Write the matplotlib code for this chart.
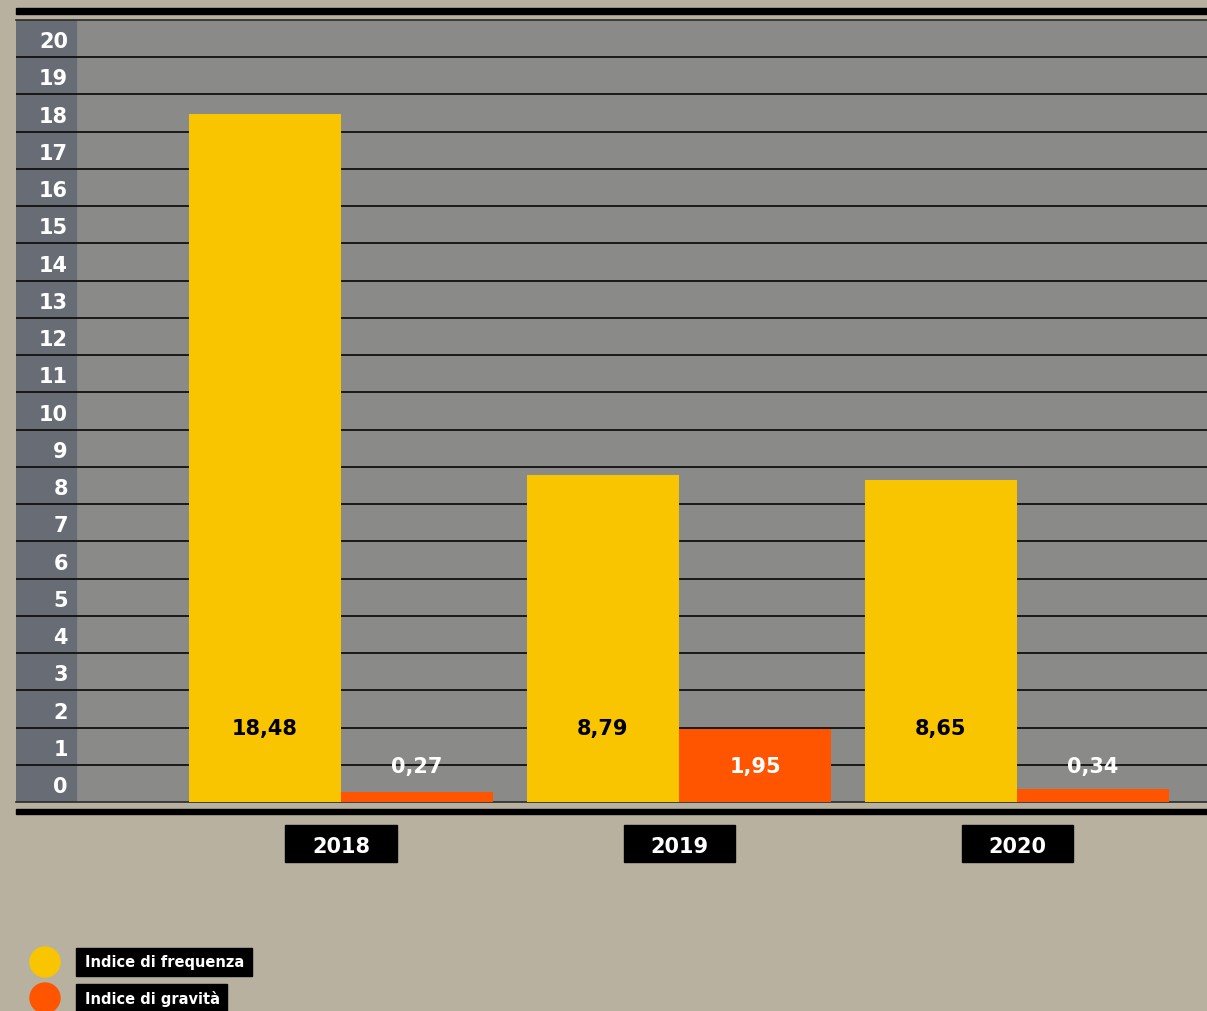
import numpy as np
import matplotlib.pyplot as plt
from matplotlib.patches import Rectangle, Circle
from matplotlib.transforms import blended_transform_factory

years = ['2018', '2019', '2020']
frequenza = [18.48, 8.79, 8.65]
gravita = [0.27, 1.95, 0.34]
y_ticks = list(range(0, 21))
legend_labels = ['Indice di frequenza', 'Indice di gravità']

BEIGE = '#b8b1a0'
GRAY = '#8a8a88'
SLATE = '#686d75'
YELLOW = '#f8c500'
ORANGE = '#ff5400'

W, H = 1207, 1012
fig = plt.figure(figsize=(W / 100, H / 100), dpi=100, facecolor=BEIGE)


def px_rect(x0, y0, x1, y1):
    # pixel box (top-left origin) -> figure fraction
    return [x0 / W, 1 - y1 / H, (x1 - x0) / W, (y1 - y0) / H]


# overlay in pixel units for the frame bars and the legend
deco = fig.add_axes([0, 0, 1, 1])
deco.set_xlim(0, W)
deco.set_ylim(H, 0)
deco.axis('off')

deco.add_patch(Rectangle((16, 9), W - 16, 6, color='black'))
deco.add_patch(Rectangle((16, 809.5), W - 16, 5.5, color='black'))

ax = fig.add_axes(px_rect(16, 21, W, 803))
ax.set_facecolor(GRAY)
ax.set_xlim(-0.9615, 2.562)
ax.set_ylim(0, 21)
ax.set_xticks([])
ax.set_yticks([])
for side in ['left', 'right']:
    ax.spines[side].set_visible(False)
for side in ['top', 'bottom']:
    ax.spines[side].set_color('#2a2a2a')
    ax.spines[side].set_linewidth(1.2)

# dark column behind the value scale
ax.add_patch(Rectangle((0, 0), 60 / 1191, 1, transform=ax.transAxes,
                       color=SLATE, zorder=1))

for k in range(1, 21):
    ax.axhline(k, color='#111111', lw=1.3, zorder=2)

ytrans = blended_transform_factory(ax.transAxes, ax.transData)
for k in y_ticks:
    ax.text(52 / 1191, k + 0.43, str(k), transform=ytrans, ha='right',
            va='center', fontsize=15, fontweight='bold', color='white', zorder=4)

x = np.arange(len(years))
w = 0.45
ax.bar(x - w / 2, frequenza, w, color=YELLOW, zorder=3)
ax.bar(x + w / 2, gravita, w, color=ORANGE, zorder=3)

for i in range(len(years)):
    ax.text(x[i] - w / 2, 2.0, f'{frequenza[i]:.2f}'.replace('.', ','),
            ha='center', va='center', fontsize=15, fontweight='bold',
            color='black', zorder=4)
    ax.text(x[i] + w / 2, 0.98, f'{gravita[i]:.2f}'.replace('.', ','),
            ha='center', va='center', fontsize=15, fontweight='bold',
            color='white', zorder=4)

# year tags under the panel
xtrans = blended_transform_factory(ax.transData, ax.transAxes)
bw = 111 / 338
for i, yr in enumerate(years):
    ax.add_patch(Rectangle((x[i] - bw / 2, -60 / 782), bw, 37 / 782,
                           transform=xtrans, color='black', clip_on=False))
    ax.text(x[i], -44 / 782, yr, transform=xtrans, ha='center', va='center',
            fontsize=15, fontweight='bold', color='white', clip_on=False)

# legend
for (label, col, cy, bx1) in zip(legend_labels, [YELLOW, ORANGE], [963, 999], [252, 227]):
    deco.add_patch(Circle((45, cy), 15, color=col))
    deco.add_patch(Rectangle((76, cy - 14), bx1 - 76, 28, color='black'))
    deco.text(85, cy, label, ha='left', va='center', fontsize=10.5,
              fontweight='bold', color='white')

fig.savefig('out.png', dpi=100, facecolor=BEIGE)
